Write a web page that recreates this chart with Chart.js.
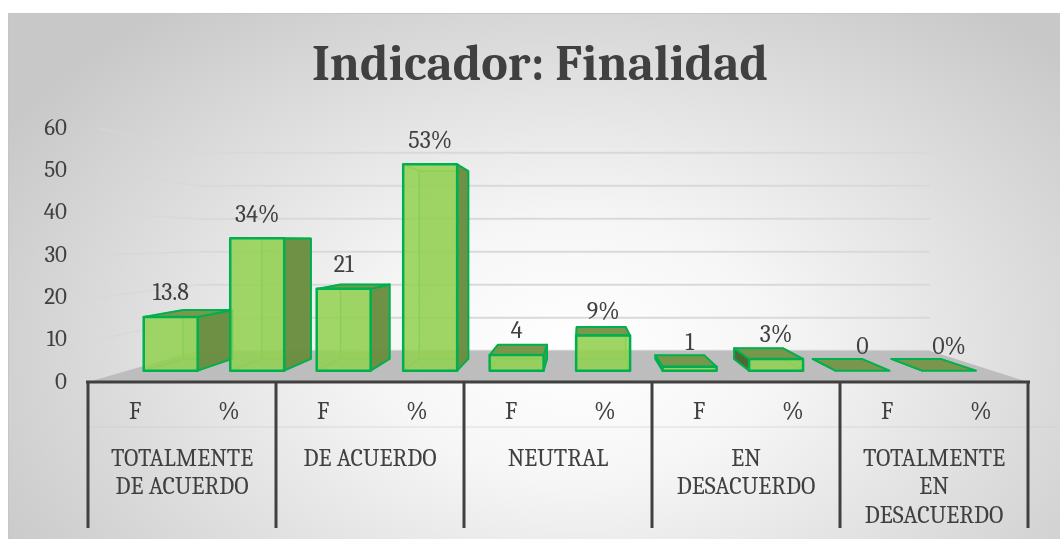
<!DOCTYPE html>
<html lang="es">
<head>
<meta charset="utf-8">
<title>Indicador: Finalidad</title>
<script src="https://cdn.jsdelivr.net/npm/chart.js@4.4.1/dist/chart.umd.min.js"></script>
<style>
  html, body { margin: 0; padding: 0; background: #ffffff; overflow: hidden; }
  .frame {
    position: absolute; left: 8px; top: 13px; width: 1070px; height: 540px;
    border-left: 1px solid #c6c6c6; border-top: 1px solid #c6c6c6;
    background: radial-gradient(ellipse 62% 80% at 53% 62%, #ffffff 0%, #f6f6f6 30%, #c8c8c8 100%);
  }
  #chart { position: absolute; left: 0; top: 0; }
</style>
</head>
<body>
<div class="frame"></div>
<canvas id="chart" width="1060" height="539"></canvas>
<script>
// Data
const chartTitle = "Indicador: Finalidad";
const groupLabels = [
  ["TOTALMENTE", "DE ACUERDO"],
  ["DE ACUERDO"],
  ["NEUTRAL"],
  ["EN", "DESACUERDO"],
  ["TOTALMENTE", "EN", "DESACUERDO"],
];
const seriesLabels = ["F", "%"];
const frecuencia = [13.8, 21, 4, 1, 0];
const porcentaje = [34, 53, 9, 3, 0];
const yTicks = [0, 10, 20, 30, 40, 50, 60];

const FONT = "'Cambria', 'Liberation Serif', serif";
const TEXT = "#404040";

// interleave F / % per group
const labels = groupLabels.flatMap(() => seriesLabels);
const values = frecuencia.flatMap((f, i) => [f, porcentaje[i]]);
const valueText = frecuencia.flatMap((f, i) => [String(f), porcentaje[i] + "%"]);

// 3D look: planes shrink toward a vanishing point
const depth = { front: 0.92, back: 0.91, floor: 0.78 };

function vanish(chart) {
  const a = chart.chartArea;
  return { x: a.left + (a.right - a.left) * 0.525, y: chart.scales.y.getPixelForValue(33.5) };
}

function proj(vp, p, s) {
  return { x: vp.x + s * (p.x - vp.x), y: vp.y + s * (p.y - vp.y) };
}

function poly(ctx, pts, fill, stroke, lw) {
  ctx.beginPath();
  ctx.moveTo(pts[0].x, pts[0].y);
  for (let i = 1; i < pts.length; i++) ctx.lineTo(pts[i].x, pts[i].y);
  ctx.closePath();
  if (fill) { ctx.fillStyle = fill; ctx.fill(); }
  if (stroke) { ctx.strokeStyle = stroke; ctx.lineWidth = lw; ctx.stroke(); }
}

// back wall grid + floor
const wallPlugin = {
  id: "wall",
  beforeDatasetsDraw(chart) {
    const ctx = chart.ctx, a = chart.chartArea, y = chart.scales.y;
    const vp = vanish(chart);
    ctx.save();
    yTicks.forEach((v) => {
      const ay = y.getPixelForValue(v);
      const b = proj(vp, { x: a.left, y: ay }, depth.floor);
      const e = proj(vp, { x: a.right, y: ay }, depth.floor);
      if (v > 0) {
        ctx.strokeStyle = "rgba(215,215,215,0.75)";
        ctx.lineWidth = 1.5;
        ctx.beginPath();
        ctx.moveTo(a.left + 10, ay);
        ctx.lineTo(b.x, b.y);
        ctx.stroke();
      }
      ctx.strokeStyle = "#d9d9d9";
      ctx.lineWidth = 2;
      ctx.beginPath();
      ctx.moveTo(b.x, b.y);
      ctx.lineTo(e.x, e.y);
      ctx.stroke();
    });
    // floor
    const fl = { x: a.left, y: a.bottom }, fr = { x: a.right, y: a.bottom };
    poly(ctx, [fl, proj(vp, fl, depth.floor), proj(vp, fr, depth.floor), fr], "#bdbdbd");
    ctx.restore();
  },
};

// 3D boxes for the bars, built from the bar elements
const boxPlugin = {
  id: "boxes",
  afterDatasetsDraw(chart) {
    const ctx = chart.ctx;
    const vp = vanish(chart);
    const meta = chart.getDatasetMeta(0);
    ctx.save();
    ctx.lineJoin = "round";
    meta.data.forEach((bar, i) => {
      const w = bar.width / 2;
      const sf = depth.front, sb = depth.front * depth.back;
      const c = [
        { x: bar.x - w, y: bar.y }, { x: bar.x + w, y: bar.y },
        { x: bar.x + w, y: bar.base }, { x: bar.x - w, y: bar.base },
      ];
      const f = c.map((p) => proj(vp, p, sf));
      const b = c.map((p) => proj(vp, p, sb));

      // hidden edges seen through the glass
      ctx.lineWidth = 1.5;
      ctx.strokeStyle = "rgba(90,205,85,0.9)";
      poly(ctx, b, "rgba(146,208,80,0.25)", "rgba(90,205,85,0.9)", 1.5);
      for (let k = 0; k < 4; k++) {
        ctx.beginPath();
        ctx.moveTo(f[k].x, f[k].y);
        ctx.lineTo(b[k].x, b[k].y);
        ctx.stroke();
      }
      // side faces
      if (b[1].x > f[1].x) poly(ctx, [f[1], b[1], b[2], f[2]], "rgba(104,140,62,0.95)", "#00b050", 2);
      if (b[0].x < f[0].x) poly(ctx, [f[0], b[0], b[3], f[3]], "rgba(70,100,45,0.95)", "#00b050", 2);
      // top face
      if (b[0].y < f[0].y) poly(ctx, [f[0], b[0], b[1], f[1]], "rgba(118,150,72,0.97)", "#00b050", 2);
      // front face
      if (f[2].y - f[0].y > 0.5) poly(ctx, f, "rgba(146,208,80,0.85)", "#00b050", 2.5);

      // value label above the front face
      ctx.fillStyle = TEXT;
      ctx.font = "24px " + FONT;
      ctx.textAlign = "center";
      ctx.textBaseline = "middle";
      ctx.fillText(valueText[i], (f[0].x + f[1].x) / 2, f[0].y - 23.5);
    });
    ctx.restore();
  },
};

// title + table under the x axis
const tablePlugin = {
  id: "table",
  afterDraw(chart) {
    const ctx = chart.ctx, a = chart.chartArea, x = chart.scales.x;
    const cat = (a.right - a.left) / labels.length;
    ctx.save();
    ctx.fillStyle = TEXT;
    ctx.font = "bold 50px " + FONT;
    ctx.textAlign = "center";
    ctx.textBaseline = "middle";
    ctx.fillText(chartTitle, chart.width / 2 + 10, 66);

    ctx.strokeStyle = "rgba(205,205,205,0.6)";
    ctx.lineWidth = 1;
    ctx.beginPath();
    ctx.moveTo(a.left, a.bottom + 45);
    ctx.lineTo(a.right + 30, a.bottom + 45);
    ctx.stroke();

    ctx.strokeStyle = TEXT;
    ctx.lineWidth = 3;
    ctx.beginPath();
    ctx.moveTo(a.left - 2, a.bottom);
    ctx.lineTo(a.right + 2, a.bottom);
    ctx.stroke();
    for (let g = 0; g <= groupLabels.length; g++) {
      const gx = g < groupLabels.length ? x.getPixelForValue(g * 2) - cat / 2 : x.getPixelForValue(g * 2 - 1) + cat / 2;
      ctx.beginPath();
      ctx.moveTo(gx, a.bottom);
      ctx.lineTo(gx, a.bottom + 146);
      ctx.stroke();
    }
    ctx.font = "24px " + FONT;
    groupLabels.forEach((lines, g) => {
      const cx = (x.getPixelForValue(g * 2) + x.getPixelForValue(g * 2 + 1)) / 2;
      lines.forEach((t, k) => ctx.fillText(t, cx, a.bottom + 77 + k * 28.5));
    });
    ctx.restore();
  },
};

new Chart(document.getElementById("chart"), {
  type: "bar",
  data: {
    labels: labels,
    datasets: [
      {
        data: values,
        backgroundColor: "rgba(0,0,0,0)",
        borderWidth: 0,
        barPercentage: 0.624,
        categoryPercentage: 1,
      },
    ],
  },
  options: {
    responsive: false,
    animation: false,
    layout: { padding: { left: 20, right: 32, top: 128, bottom: 0 } },
    scales: {
      x: {
        grid: { display: false, drawTicks: false },
        border: { display: false },
        ticks: { color: TEXT, font: { family: FONT, size: 24 }, padding: 16, maxRotation: 0 },
        afterFit: (scale) => { scale.height = 157; },
      },
      y: {
        min: 0,
        max: 60,
        grid: { display: false, drawTicks: false },
        border: { display: false },
        ticks: { stepSize: 10, color: TEXT, font: { family: FONT, size: 23 }, padding: 21 },
        afterFit: (scale) => { scale.width = 68; },
      },
    },
    plugins: {
      legend: { display: false },
      tooltip: { enabled: false },
      title: { display: false },
    },
  },
  plugins: [wallPlugin, boxPlugin, tablePlugin],
});
</script>
</body>
</html>
